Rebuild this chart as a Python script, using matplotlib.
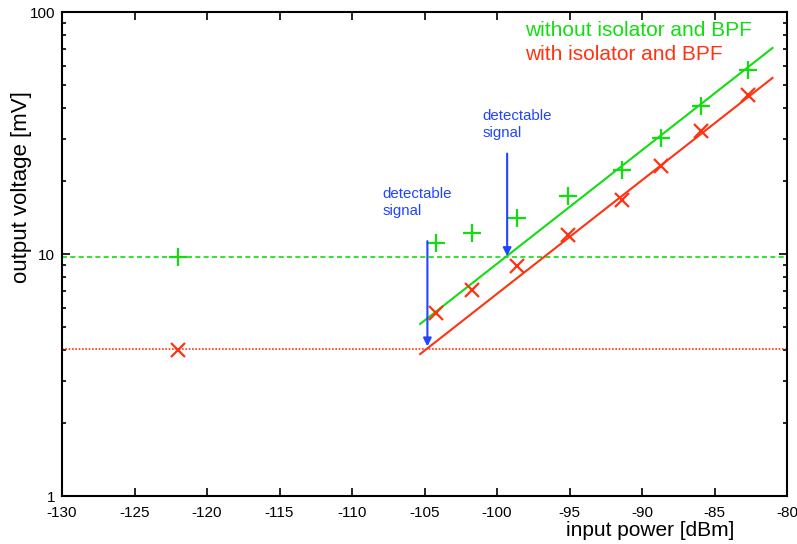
import matplotlib.pyplot as plt
import numpy as np

plt.rcParams['font.family'] = ['Liberation Sans', 'DejaVu Sans']

# measured points
power_no_filter = [-122.0, -104.2, -101.7, -98.6, -95.1, -91.4, -88.7, -85.9, -82.7]
volt_no_filter = [9.7, 11.1, 12.2, 14.1, 17.4, 22.2, 30.2, 40.9, 57.6]
power_filter = [-122.0, -104.2, -101.7, -98.6, -95.1, -91.4, -88.7, -85.9, -82.7]
volt_filter = [4.0, 5.7, 7.1, 8.9, 12.0, 16.7, 23.1, 32.2, 45.4]

# fitted lines (end points) and noise floors
fit_x = [-105.3, -81.0]
fit_no_filter = [5.14, 71.0]
fit_filter = [3.86, 53.4]
floor_no_filter = 9.72
floor_filter = 4.05

# detectable signal arrows: x, y start, y end
arrow1 = (-104.8, 11.3, 4.15)
arrow2 = (-99.3, 26.0, 9.8)

green = '#11dd11'
red = '#ff3311'
blue = '#2244ff'

fig = plt.figure(figsize=(7.97, 5.44), dpi=100)
ax = fig.add_axes([62 / 797, 48 / 544, 725 / 797, 484 / 544])

ax.axhline(floor_no_filter, color=green, ls=(0, (3, 2)), lw=1.2)
ax.axhline(floor_filter, color=red, ls=(0, (1, 1)), lw=1.2)
ax.plot(fit_x, fit_no_filter, color=green, lw=1.5)
ax.plot(fit_x, fit_filter, color=red, lw=1.5)
ax.plot(power_no_filter, volt_no_filter, ls='none', marker='+', ms=13, mew=1.6, color=green)
ax.plot(power_filter, volt_filter, ls='none', marker='x', ms=10, mew=1.6, color=red)

for xa, y0, y1 in (arrow1, arrow2):
    ax.annotate('', xy=(xa, y1), xytext=(xa, y0),
                arrowprops=dict(arrowstyle='-|>', color=blue, lw=1.5, mutation_scale=12,
                                shrinkA=0, shrinkB=0))
ax.text(-107.9, 16.3, 'detectable\nsignal', color=blue, fontsize=10.8, va='center', ha='left', linespacing=1.3)
ax.text(-101.0, 34.4, 'detectable\nsignal', color=blue, fontsize=10.8, va='center', ha='left', linespacing=1.3)

ax.text(-98.1, 84.0, 'without isolator and BPF', color=green, fontsize=15, ha='left', va='center')
ax.text(-98.1, 66.5, 'with isolator and BPF', color=red, fontsize=15, ha='left', va='center')

ax.set_yscale('log')
ax.set_xlim(-130, -80)
ax.set_ylim(1, 100)
ax.set_xticks(np.arange(-130, -79, 5))
ax.set_xticklabels([str(v) for v in range(-130, -79, 5)])
ax.set_yticks([1, 10, 100])
ax.set_yticklabels(['1', '10', '100'])
ax.tick_params(which='both', direction='in', top=True, right=True, labelsize=11, width=1.2)
ax.tick_params(which='major', length=6)
ax.tick_params(which='minor', length=3)
ax.tick_params(axis='x', which='major', pad=7)
ax.tick_params(axis='y', which='major', pad=5)
ax.tick_params(axis='x', which='minor', bottom=False, top=False)
for s in ax.spines.values():
    s.set_linewidth(1.5)

fig.text(650 / 797, 1 - 531 / 544, 'input power [dBm]', fontsize=15, ha='center', va='center')
fig.text(22 / 797, 1 - 187 / 544, 'output voltage [mV]', fontsize=16, ha='center', va='center', rotation=90)

fig.savefig('out.png', dpi=100)
